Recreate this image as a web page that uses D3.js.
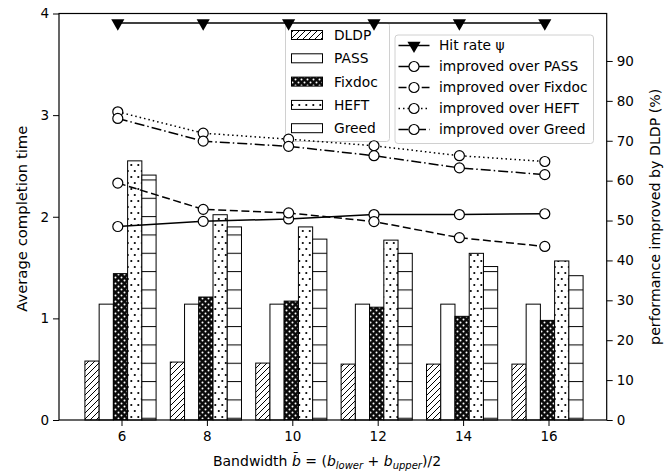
<!DOCTYPE html>
<html>
<head>
<meta charset="utf-8">
<script src="https://cdn.jsdelivr.net/npm/d3@7"></script>
<style>
  body { margin: 0; background: #fff; }
  text { font-family: "DejaVu Sans", sans-serif; fill: #000; }
</style>
</head>
<body>
<svg id="chart" width="672" height="473"></svg>
<script>
// data
const bandwidth = [6, 8, 10, 12, 14, 16];
const methods = ["DLDP", "PASS", "Fixdoc", "HEFT", "Greed"];
const dldp   = [0.58, 0.57, 0.56, 0.55, 0.55, 0.55];
const pass   = [1.14, 1.14, 1.14, 1.14, 1.14, 1.14];
const fixdoc = [1.44, 1.21, 1.17, 1.11, 1.02, 0.98];
const heft   = [2.55, 2.02, 1.90, 1.77, 1.64, 1.565];
const greed  = [2.41, 1.90, 1.78, 1.64, 1.51, 1.42];

const hitRate    = [99.5, 99.5, 99.5, 99.5, 99.5, 99.5];
const overPass   = [48.5, 49.8, 50.4, 51.5, 51.5, 51.7];
const overFixdoc = [59.4, 52.8, 51.9, 49.75, 45.7, 43.5];
const overHeft   = [77.25, 71.9, 70.4, 68.75, 66.25, 64.8];
const overGreed  = [75.6, 69.9, 68.6, 66.25, 63.2, 61.5];

const leftTicks  = [0, 1, 2, 3, 4];
const rightTicks = [0, 10, 20, 30, 40, 50, 60, 70, 80, 90];
const xTicks     = [6, 8, 10, 12, 14, 16];

const barSeries = [dldp, pass, fixdoc, heft, greed];
const lineSeries = [
  {name: "improved over PASS",   vals: overPass,   dash: null},
  {name: "improved over Fixdoc", vals: overFixdoc, dash: "8,3.6"},
  {name: "improved over HEFT",   vals: overHeft,   dash: "1.5,3"},
  {name: "improved over Greed",  vals: overGreed,  dash: "10,3,1.5,3"}
];

const svg = d3.select("#chart");
const plot = {left: 59, right: 606.7, top: 13.5, bottom: 420};

const x  = d3.scaleLinear().domain([6, 16]).range([121.5, 548.5]);
const y  = d3.scaleLinear().domain([0, 4]).range([plot.bottom, plot.top]);
const y2 = d3.scaleLinear().domain([0, 101.9]).range([plot.bottom, plot.top]);

// hatch patterns
const defs = svg.append("defs");
const p1 = defs.append("pattern").attr("id", "hatchDiag").attr("patternUnits", "userSpaceOnUse")
  .attr("width", 6).attr("height", 6);
p1.append("rect").attr("width", 6).attr("height", 6).attr("fill", "#fff");
p1.append("path").attr("d", "M-1,1 l2,-2 M0,6 l6,-6 M5,7 l2,-2").attr("stroke", "#000").attr("stroke-width", 1);

const p2 = defs.append("pattern").attr("id", "hatchStar").attr("patternUnits", "userSpaceOnUse")
  .attr("width", 6).attr("height", 6);
p2.append("rect").attr("width", 6).attr("height", 6).attr("fill", "#0a0a0a");
p2.append("circle").attr("cx", 1.5).attr("cy", 1.5).attr("r", 1).attr("fill", "#fff");
p2.append("circle").attr("cx", 4.5).attr("cy", 4.5).attr("r", 1).attr("fill", "#fff");

const p3 = defs.append("pattern").attr("id", "hatchDot").attr("patternUnits", "userSpaceOnUse")
  .attr("width", 7).attr("height", 12);
p3.append("rect").attr("width", 7).attr("height", 12).attr("fill", "#fff");
p3.append("circle").attr("cx", 1.8).attr("cy", 3).attr("r", 1.1).attr("fill", "#000");
p3.append("circle").attr("cx", 5.3).attr("cy", 9).attr("r", 1.1).attr("fill", "#000");

const p4 = defs.append("pattern").attr("id", "hatchHoriz").attr("patternUnits", "userSpaceOnUse")
  .attr("width", 20).attr("height", 18.33);
p4.append("rect").attr("width", 20).attr("height", 18.33).attr("fill", "#fff");
p4.append("line").attr("x1", 0).attr("x2", 20).attr("y1", 15).attr("y2", 15)
  .attr("stroke", "#000").attr("stroke-width", 1);

const fills = ["url(#hatchDiag)", "#fff", "url(#hatchStar)", "url(#hatchDot)", "url(#hatchHoriz)"];
const legendFills = ["url(#hatchDiag)", "#fff", "url(#hatchStar)", "url(#hatchDot)", "#fff"];

// bars
const barW = x(6 + 1 / 3) - x(6);
barSeries.forEach((vals, i) => {
  svg.append("g").selectAll("rect")
    .data(vals)
    .join("rect")
    .attr("x", (d, j) => x(bandwidth[j]) - 2.5 * barW - 1 + i * barW)
    .attr("y", d => y(d))
    .attr("width", barW)
    .attr("height", d => y(0) - y(d))
    .attr("fill", fills[i])
    .attr("stroke", "#000")
    .attr("stroke-width", 1);
});

// axes
const axL = svg.append("g").attr("transform", `translate(${plot.left},0)`)
  .call(d3.axisLeft(y).tickValues(leftTicks).tickSize(6).tickPadding(4).tickFormat(d3.format("d")));
const axR = svg.append("g").attr("transform", `translate(${plot.right},0)`)
  .call(d3.axisRight(y2).tickValues(rightTicks).tickSize(6).tickPadding(4).tickFormat(d3.format("d")));
const axB = svg.append("g").attr("transform", `translate(0,${plot.bottom})`)
  .call(d3.axisBottom(x).tickValues(xTicks).tickSize(6).tickPadding(5).tickFormat(d3.format("d")));
[axL, axR, axB].forEach(g => {
  g.select(".domain").remove();
  g.selectAll("text").style("font-size", "13.5px").attr("fill", "#000");
  g.selectAll("line").attr("stroke", "#000");
});

// frame
svg.append("rect")
  .attr("x", plot.left).attr("y", plot.top)
  .attr("width", plot.right - plot.left).attr("height", plot.bottom - plot.top)
  .attr("fill", "none").attr("stroke", "#000").attr("stroke-width", 1.2);

// bar legend
const lg1 = svg.append("g");
lg1.append("rect").attr("x", 285.5).attr("y", 22.5).attr("width", 104).attr("height", 119)
  .attr("rx", 3).attr("fill", "#fff").attr("fill-opacity", 0.8).attr("stroke", "#d0d0d0");
methods.forEach((m, i) => {
  const cy = 35 + i * 23.3;
  lg1.append("rect").attr("x", 291.5).attr("y", cy - 4.5).attr("width", 31).attr("height", 9)
    .attr("fill", legendFills[i]).attr("stroke", "#000").attr("stroke-width", 1);
  lg1.append("text").attr("x", 334).attr("y", cy).attr("dy", "0.36em")
    .style("font-size", "13.8px").text(m);
});

// lines on right axis
const xl = d => x(d) - 3.7;
const line = vals => d3.line().x((d, j) => xl(bandwidth[j])).y(d => y2(d))(vals);

svg.append("path").attr("d", line(hitRate)).attr("fill", "none").attr("stroke", "#000").attr("stroke-width", 1.5);
const tri = d3.symbol().type(d3.symbolTriangle).size(75);
svg.append("g").selectAll("path").data(hitRate).join("path")
  .attr("d", tri)
  .attr("transform", (d, j) => `translate(${xl(bandwidth[j])},${y2(d)}) rotate(180)`)
  .attr("fill", "#000");

lineSeries.forEach(s => {
  svg.append("path").attr("d", line(s.vals)).attr("fill", "none")
    .attr("stroke", "#000").attr("stroke-width", 1.5)
    .attr("stroke-dasharray", s.dash);
  svg.append("g").selectAll("circle").data(s.vals).join("circle")
    .attr("cx", (d, j) => xl(bandwidth[j])).attr("cy", d => y2(d)).attr("r", 5)
    .attr("fill", "#fff").attr("stroke", "#000").attr("stroke-width", 1.2);
});

// line legend
const lg2 = svg.append("g");
lg2.append("rect").attr("x", 395).attr("y", 35).attr("width", 198.5).attr("height", 108.5)
  .attr("rx", 3).attr("fill", "#fff").attr("fill-opacity", 0.8).attr("stroke", "#d0d0d0");
const legendLines = [{name: "Hit rate ψ", dash: null, tri: true}].concat(lineSeries);
legendLines.forEach((s, i) => {
  const cy = 45.5 + i * 21;
  lg2.append("line").attr("x1", 398.5).attr("x2", 429.5).attr("y1", cy).attr("y2", cy)
    .attr("stroke", "#000").attr("stroke-width", 1.5).attr("stroke-dasharray", s.dash);
  if (s.tri) {
    lg2.append("path").attr("d", tri).attr("transform", `translate(414,${cy}) rotate(180)`).attr("fill", "#000");
  } else {
    lg2.append("circle").attr("cx", 414).attr("cy", cy).attr("r", 5)
      .attr("fill", "#fff").attr("stroke", "#000").attr("stroke-width", 1.2);
  }
  lg2.append("text").attr("x", 439).attr("y", cy).attr("dy", "0.36em")
    .style("font-size", "13.8px").text(s.name);
});

// axis labels
svg.append("text")
  .attr("transform", `translate(27,${(plot.top + plot.bottom) / 2 + 2}) rotate(-90)`)
  .attr("text-anchor", "middle").style("font-size", "14.8px")
  .text("Average completion time");
svg.append("text")
  .attr("transform", `translate(660,${(plot.top + plot.bottom) / 2}) rotate(-90)`)
  .attr("text-anchor", "middle").style("font-size", "14.2px")
  .text("performance improved by DLDP (%)");

const xlab = svg.append("text").attr("x", 327).attr("y", 466)
  .attr("text-anchor", "middle").style("font-size", "14px");
xlab.append("tspan").text("Bandwidth  ");
xlab.append("tspan").style("font-style", "italic").text("b\u0304");
xlab.append("tspan").text(" = (");
xlab.append("tspan").style("font-style", "italic").text("b");
xlab.append("tspan").style("font-style", "italic").style("font-size", "10px").attr("dy", 3).text("lower");
xlab.append("tspan").attr("dy", -3).text(" + ");
xlab.append("tspan").style("font-style", "italic").text("b");
xlab.append("tspan").style("font-style", "italic").style("font-size", "10px").attr("dy", 3).text("upper");
xlab.append("tspan").attr("dy", -3).text(")/2");
</script>
</body>
</html>
